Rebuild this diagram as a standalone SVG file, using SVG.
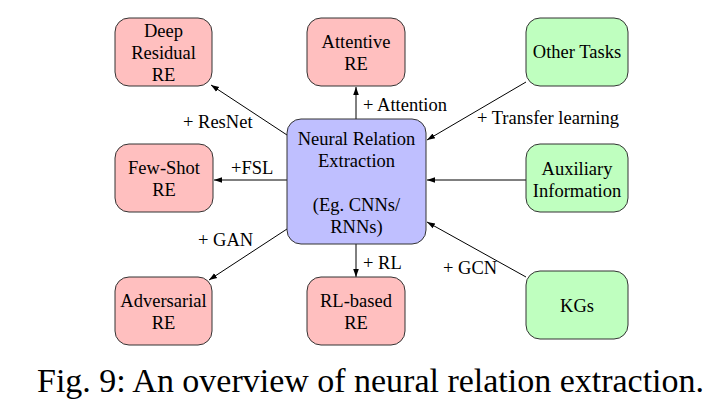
<svg xmlns="http://www.w3.org/2000/svg" width="727" height="407" viewBox="0 0 727 407">
<defs>
<marker id="ah" viewBox="0 0 10 10" refX="10" refY="5" markerWidth="8" markerHeight="8" markerUnits="userSpaceOnUse" orient="auto">
<path d="M0,1.5 L10,5 L0,8.5 z" fill="#000"/>
</marker>
<style>
.box{stroke:#333;stroke-width:1;}
.red{fill:#FFBFBF;}
.green{fill:#BFFFBF;}
.blue{fill:#BFBFFF;}
text{font-family:"Liberation Serif","DejaVu Serif",serif;font-size:18.5px;fill:#000;}
.c{text-anchor:middle;}
.edge{stroke:#000;stroke-width:1;fill:none;marker-end:url(#ah);}
.cap{font-size:34px;}
</style>
</defs>
<rect width="727" height="407" fill="#fff"/>
<g id="connectors">
<line class="edge" x1="287" y1="135" x2="211" y2="85"/>
<line class="edge" x1="356" y1="119" x2="356" y2="87"/>
<line class="edge" x1="526" y1="82" x2="427" y2="140"/>
<line class="edge" x1="287" y1="180" x2="214" y2="180"/>
<line class="edge" x1="526" y1="180" x2="427" y2="180"/>
<line class="edge" x1="287" y1="229" x2="209" y2="280"/>
<line class="edge" x1="356" y1="244" x2="356" y2="277"/>
<line class="edge" x1="526" y1="277" x2="427" y2="222"/>
<text x="183" y="128">+ ResNet</text>
<text x="363" y="111">+ Attention</text>
<text x="477" y="124">+ Transfer learning</text>
<text x="231" y="174">+FSL</text>
<text x="198" y="246">+ GAN</text>
<text x="363" y="269">+ RL</text>
<text x="443" y="274">+ GCN</text>
</g>
<g id="deep-residual">
<rect class="box red" x="115" y="18" width="97" height="68" rx="14"/>
<text class="c" x="163.5" y="37">Deep</text>
<text class="c" x="163.5" y="59">Residual</text>
<text class="c" x="163.5" y="81">RE</text>
</g>
<g id="attentive">
<rect class="box red" x="307" y="18" width="98" height="68" rx="14"/>
<text class="c" x="356" y="48">Attentive</text>
<text class="c" x="356" y="70">RE</text>
</g>
<g id="other-tasks">
<rect class="box green" x="526" y="18" width="102" height="68" rx="14"/>
<text class="c" x="577" y="58">Other Tasks</text>
</g>
<g id="neural-re">
<rect class="box blue" x="287" y="119" width="139" height="125" rx="14"/>
<text class="c" x="356.5" y="145">Neural Relation</text>
<text class="c" x="356.5" y="167">Extraction</text>
<text class="c" x="356.5" y="211">(Eg. CNNs/</text>
<text class="c" x="356.5" y="233">RNNs)</text>
</g>
<g id="few-shot">
<rect class="box red" x="115" y="144" width="98" height="68" rx="14"/>
<text class="c" x="164" y="174">Few-Shot</text>
<text class="c" x="164" y="196">RE</text>
</g>
<g id="auxiliary">
<rect class="box green" x="526" y="144" width="102" height="68" rx="14"/>
<text class="c" x="577" y="175">Auxiliary</text>
<text class="c" x="577" y="197">Information</text>
</g>
<g id="adversarial">
<rect class="box red" x="115" y="277" width="97" height="68" rx="14"/>
<text class="c" x="163.5" y="307">Adversarial</text>
<text class="c" x="163.5" y="329">RE</text>
</g>
<g id="rl-based">
<rect class="box red" x="307" y="277" width="98" height="68" rx="14"/>
<text class="c" x="356" y="307">RL-based</text>
<text class="c" x="356" y="329">RE</text>
</g>
<g id="kgs">
<rect class="box green" x="526" y="271" width="102" height="68" rx="14"/>
<text class="c" x="577" y="312">KGs</text>
</g>
<text class="cap" x="37" y="392" textLength="667" lengthAdjust="spacing">Fig. 9: An overview of neural relation extraction.</text>
</svg>
